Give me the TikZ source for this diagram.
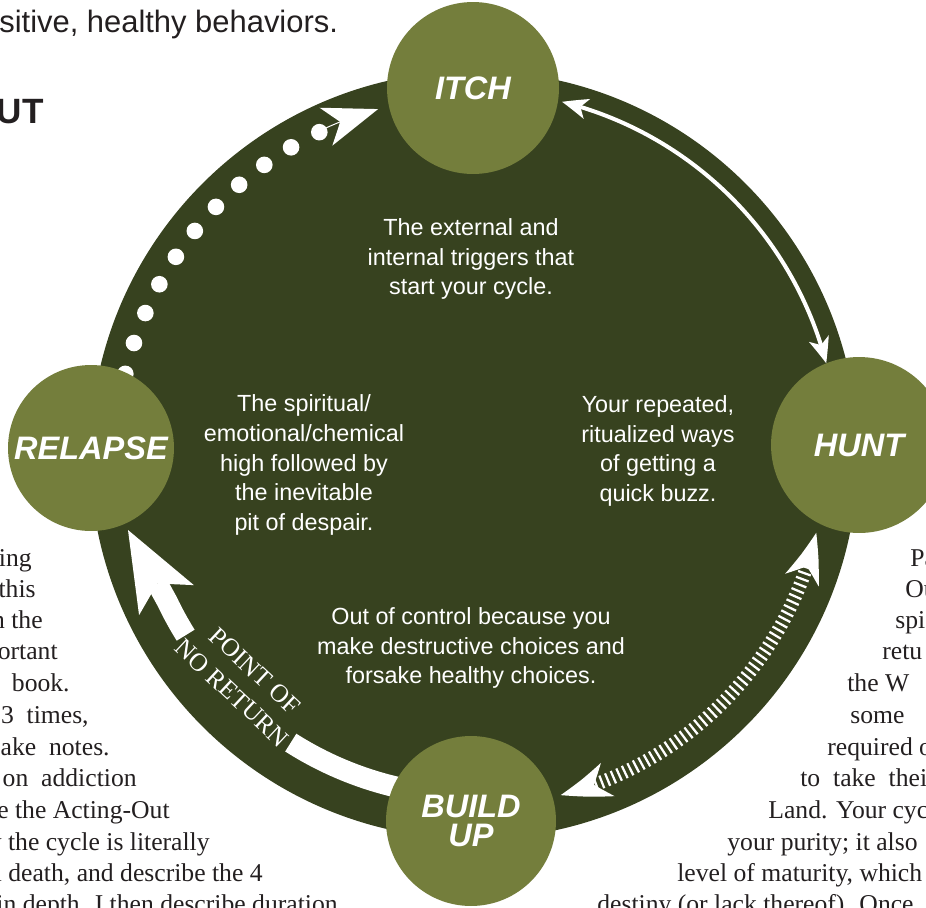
\documentclass[tikz,border=0pt]{standalone}
\usepackage{fontspec}
\setmainfont{Liberation Serif}
\setsansfont{Liberation Sans}
\usetikzlibrary{arrows.meta,bending,calc}
\definecolor{dkgreen}{HTML}{37421F}
\definecolor{olivegr}{HTML}{747E3C}
\definecolor{ink}{HTML}{231F20}
\begin{document}
\begin{tikzpicture}[x=0.02cm,y=0.02cm,
  stage/.style={circle, fill=olivegr, inner sep=0pt, text=white, align=center,
    font=\sffamily\bfseries\itshape\fontsize{18.5}{17}\selectfont},
  desc/.style={text=white, align=center, inner sep=0pt,
    font=\sffamily\fontsize{13.3}{17}\selectfont},
  body/.style={text=ink, inner sep=0pt, font=\fontsize{14.6}{18}\selectfont},
  bodyL/.style={body, anchor=base east},
  bodyR/.style={body, anchor=base west},
  pnrtext/.style={text=white, inner sep=0pt, rotate=-43, font=\fontsize{14.5}{18}\selectfont},
  wline/.style={draw=white, line width=0.08cm},
]
\useasboundingbox (0,0) rectangle (926,-907);
\clip (0,0) rectangle (926,-907);

% page text
\node[anchor=base west, text=ink, inner sep=0pt, font=\sffamily\fontsize{17.6}{20}\selectfont] (toptext) at (-1,-32) {sitive, healthy behaviors.};
\node[anchor=base east, text=ink, inner sep=0pt, font=\sffamily\bfseries\fontsize{20}{24}\selectfont] (heading) at (44,-123) {UT};

\node[bodyL] (l1) at (32,-566) {ing};
\node[bodyL] (l2) at (36,-597) {this};
\node[bodyL] (l3) at (43,-628) {n the};
\node[bodyL] (l4) at (58,-659) {ortant};
\node[bodyL] (l5) at (70,-691) {book.};
\node[bodyL] (l6) at (89,-723) {3\ \ times,};
\node[bodyL] (l7) at (110,-755) {ake\ \ notes.};
\node[bodyL] (l8) at (137,-786) {on\ \ addiction};
\node[bodyL] (l9) at (170,-818) {e the Acting-Out};
\node[bodyL] (l10) at (210,-850) {y the cycle is literally};
\node[bodyL] (l11) at (263,-881) {l death, and describe the 4};
\node[bodyL] (l12) at (338,-912) {in depth. I then describe duration};

\node[bodyR] (r1) at (910,-566) {Pa};
\node[bodyR] (r2) at (905,-597) {Ou};
\node[bodyR] (r3) at (895,-628) {spi};
\node[bodyR] (r4) at (882,-659) {retu};
\node[bodyR] (r5) at (847,-691) {the W};
\node[bodyR] (r6) at (850,-723) {some};
\node[bodyR] (r7) at (827,-755) {required o};
\node[bodyR] (r8) at (800,-786) {to\ \ take\ \ thei};
\node[bodyR] (r9) at (768,-818) {Land. Your cyc};
\node[bodyR] (r10) at (727,-850) {your purity; it also};
\node[bodyR] (r11) at (677,-881) {level of maturity, which};
\node[bodyR] (r12) at (597,-912) {destiny (or lack thereof). Once};

% big circle
\coordinate (C) at (474,-455);
\node[circle, fill=dkgreen, inner sep=0pt, minimum size=15.36cm] (cycle) at (C) {};

% arc end points
\coordinate (ihS) at ($(C)+(76:364)$);
\coordinate (hbS) at ($(C)+(-12.8:351)$);
\coordinate (brS) at ($(C)+(262:341)$);
\coordinate (brT) at ($(C)+(212:340)$);
\coordinate (brTip) at (128,-530);
\coordinate (riA) at ($(C)+(115:359)$);

% ITCH <-> HUNT
\draw[wline, {Stealth[length=0.52cm,width=0.42cm,inset=0.14cm,line width=0pt,bend]}-{Stealth[length=0.52cm,width=0.42cm,inset=0.14cm,line width=0pt,bend]}]
  (ihS) arc[start angle=76, end angle=14.6, radius=364];

% HUNT <-> BUILD UP (hatched)
\draw[draw=white, line width=0.27cm, dash pattern=on 0.045cm off 0.08cm,
  {Stealth[length=1cm,width=0.72cm,inset=0.3cm,line width=0pt,bend]}-{Stealth[length=1cm,width=0.72cm,inset=0.3cm,line width=0pt,bend]}]
  (hbS) arc[start angle=-12.8, end angle=-75.7, radius=351];

% BUILD UP -> RELAPSE (point of no return)
\draw[draw=white, line width=0.42cm] (brS) arc[start angle=262, end angle=237.5, radius=341];
\draw[draw=white, line width=0.42cm, -{Stealth[length=1.6cm,width=1.25cm,inset=0.38cm,line width=0pt]}]
  (brT) arc[start angle=212, end angle=205.5, radius=340] -- (brTip);
\node[pnrtext] (pnr1) at (255,-671) {POINT OF};
\node[pnrtext] (pnr2) at (232,-693) {NO RETURN};

% RELAPSE -> ITCH (dotted)
\foreach \i in {0,...,10}
  \fill[white] ($(C)+(166.9-5.13*\i:358)$) circle[radius=8.3];
\draw[draw=white, line width=0.02cm, -{Stealth[length=1.1cm,width=0.8cm,inset=0.3cm,line width=0pt]}]
  (riA) arc[start angle=115, end angle=105.5, radius=359];

% stage circles
\node[stage, minimum size=3.44cm] (itch) at (473,-88) {ITCH};
\node[stage, minimum size=3.52cm] (hunt) at (859,-445) {HUNT};
\node[stage, minimum size=3.32cm] (relapse) at (91,-448) {RELAPSE};
\node[stage, minimum size=3.4cm] (buildup) at (471,-821) {BUILD\\UP};

% descriptions
\node[desc] (dItch) at (471,-259) {The external and\\internal triggers that\\start your cycle.};
\node[desc] (dRel) at (304,-465) {The spiritual/\\emotional/chemical\\high followed by\\the inevitable\\pit of despair.};
\node[desc] (dHunt) at (658,-451) {Your repeated,\\ritualized ways\\of getting a\\quick buzz.};
\node[desc] (dBuild) at (471,-648) {Out of control because you\\make destructive choices and\\forsake healthy choices.};
\end{tikzpicture}
\end{document}
